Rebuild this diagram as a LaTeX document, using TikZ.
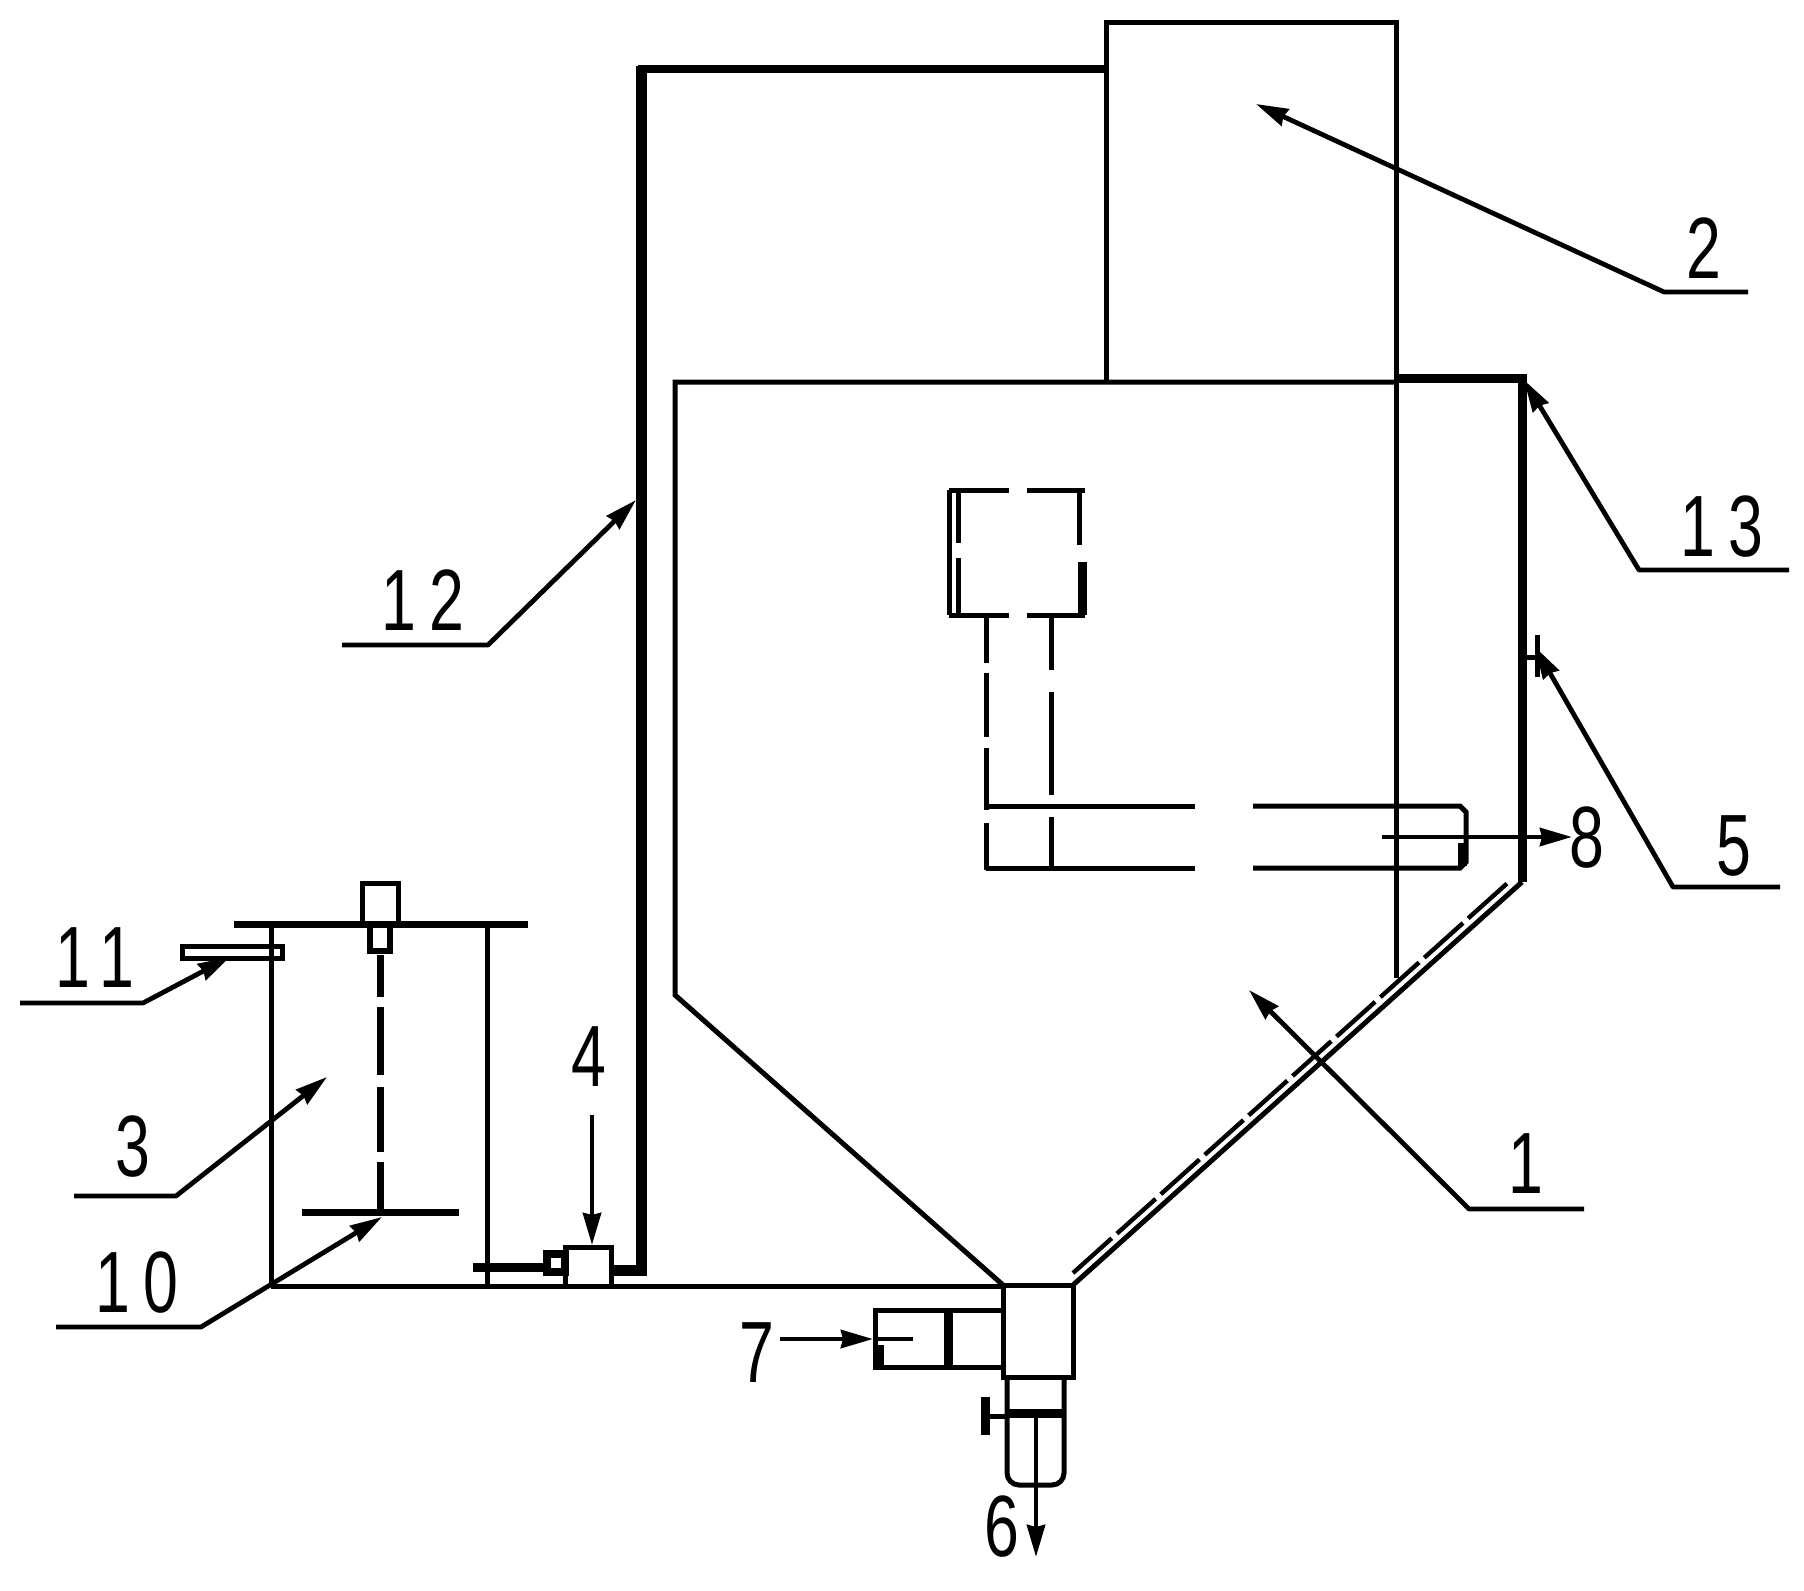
\documentclass[tikz,border=0pt]{standalone}
\usepackage{fontspec}
\usetikzlibrary{arrows.meta}
\newfontfamily\digitfont[FakeStretch=0.72,LetterSpace=15]{Liberation Sans}
\tikzset{
  wall/.style={line width=2.5pt, line join=miter},
  pipe/.style={line width=4.5pt, line join=miter},
  rod/.style={line width=3.5pt},
  leader/.style={line width=2.4pt, line join=round, -{Stealth[length=16pt,width=9pt,inset=1pt]}},
  num/.style={font=\fontsize{43.5pt}{44pt}\digitfont, inner sep=0pt}
}
\begin{document}
\begin{tikzpicture}[x=.5pt,y=-.5pt]
\useasboundingbox (0,0) rectangle (1804,1590);
% upper tank and main vessel
\draw[wall](1106,382) -- (1106,22) -- (1396,22) -- (1396,978);
\draw[wall](1396,382) -- (675,382) -- (675,995) -- (1003,1285);
\draw[pipe](1396,378) -- (1522,378) -- (1522,882);
\draw[wall](1522,882) -- (1073,1285);
\draw[wall, line width=2.2pt, dash pattern=on 26pt off 3.5pt](1073,1273) -- (1512,879);
% stirrer
\draw[wall](949,490) -- (1009,490);
\draw[wall](1027,490) -- (1085,490);
\draw[wall](949,615) -- (1009,615);
\draw[wall](1027,615) -- (1085,615);
\draw[wall](949,490) -- (949,615);
\draw[wall](958,490) -- (958,543);
\draw[wall](958,558) -- (958,615);
\draw[wall](1079,490) -- (1079,545);
\draw[pipe](1082,562) -- (1082,615);
\draw[wall](986,618) -- (986,663);
\draw[wall](986,673) -- (986,737);
\draw[wall](986,748) -- (986,810);
\draw[wall](986,823) -- (986,870);
\draw[wall](1051,618) -- (1051,670);
\draw[wall](1051,692) -- (1051,795);
\draw[wall](1051,817) -- (1051,870);
\draw[wall](986,806) -- (1195,806);
\draw[wall](986,868) -- (1195,868);
\draw[wall](1253,806) -- (1460,806) -- (1466,812) -- (1466,862) -- (1460,868) -- (1253,868);
\draw[pipe](1462,843) -- (1462,866);
% outlet box and cylinders
\draw[wall](271,1286) -- (1003,1286);
\draw[wall](1003,1285) rectangle (1073,1377);
\draw[wall](1002,1310) -- (875,1310) -- (875,1367) -- (1002,1367);
\draw[pipe](948,1310) -- (948,1367);
\draw[pipe](879,1345) -- (879,1365);
\draw[wall, rounded corners=6pt](1007,1377) -- (1007,1485) -- (1064,1485) -- (1064,1377);
\draw[pipe](1007,1413) -- (1064,1413);
\draw[wall](985,1416) -- (1007,1416);
\draw[pipe](985,1397) -- (985,1435);
% mixing tank
\draw[rod](234,924) -- (528,924);
\draw[wall](271,924) -- (271,1286);
\draw[wall](487,924) -- (487,1286);
\draw[wall](362,924) -- (362,883) -- (398,883) -- (398,924);
\draw[wall, line width=3.2pt](370,924) -- (370,951) -- (390,951) -- (390,924);
\draw[rod](380,955) -- (380,997);
\draw[rod](380,1007) -- (380,1075);
\draw[rod](380,1087) -- (380,1152);
\draw[rod](380,1162) -- (380,1212);
\draw[rod](302,1212) -- (459,1212);
\draw[wall](182,946) rectangle (282,958);
% pump and pipe
\draw[wall](565,1286) -- (565,1247) -- (611,1247) -- (611,1286);
\draw[wall, line width=4pt](547,1254) rectangle (565,1272);
\draw[pipe](473,1267) -- (545,1267);
\draw[pipe, line width=5.5pt](611,1270) -- (641,1270) -- (641,66);
\draw[pipe, line width=4pt](638,69) -- (1106,69);
% numbers
\node[num] (n1) at (1526,1164) {1};
\node[num] (n2) at (1704,248) {2};
\node[num] (n3) at (133,1147) {3};
\node[num] (n4) at (589,1057) {4};
\node[num] (n5) at (1734,846) {5};
\node[num] (n6) at (1002,1527) {6};
\node[num] (n7) at (757,1353) {7};
\node[num] (n8) at (1587,838) {8};
\node[num] (n10) at (137,1283) {10};
\node[num] (n11) at (95,958) {11};
\node[num] (n12) at (423,600) {12};
\node[num] (n13) at (1722,527) {13};
% leaders
\coordinate (p1) at (1249,990);
\coordinate (p2) at (1256,104);
\coordinate (p3) at (327,1077);
\coordinate (p4) at (592,1245);
\coordinate (p5) at (1535,647);
\coordinate (p6) at (1036,1557);
\coordinate (p7) at (873,1339);
\coordinate (p8) at (1572,837);
\coordinate (p10) at (382,1217);
\coordinate (p11) at (230,957);
\coordinate (p12) at (636,500);
\coordinate (p13) at (1524,380);
\draw[leader](1584,1209) -- (1469,1209) -- (p1);
\draw[leader](1748,292) -- (1664,292) -- (p2);
\draw[leader](74,1196) -- (176,1196) -- (p3);
\draw[leader](592,1115) -- (p4);
\draw[leader](1780,887) -- (1673,887) -- (p5);
\draw[wall](1537,635) -- (1537,677);
\draw[wall](1522,657) -- (1537,657);
\draw[leader](1036,1413) -- (p6);
\draw[leader](780,1339) -- (p7);
\draw[line width=2.4pt](p7) -- (913,1339);
\draw[leader](1382,837) -- (p8);
\draw[leader](56,1327) -- (201,1327) -- (p10);
\draw[leader](20,1003) -- (143,1003) -- (p11);
\draw[leader](342,645) -- (488,645) -- (p12);
\draw[leader](1789,570) -- (1639,570) -- (p13);
\end{tikzpicture}
\end{document}
